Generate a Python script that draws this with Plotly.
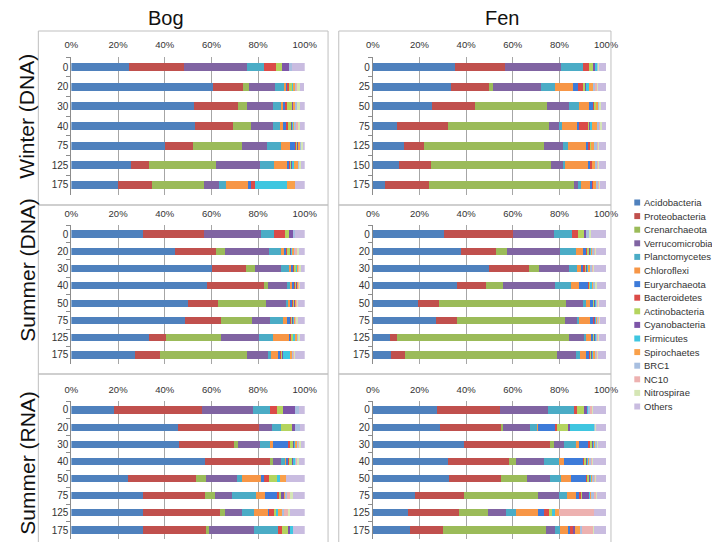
import plotly.graph_objects as go

taxa = ["Acidobacteria", "Proteobacteria", "Crenarchaeota", "Verrucomicrobia",
        "Planctomycetes", "Chloroflexi", "Euryarchaeota", "Bacteroidetes",
        "Actinobacteria", "Cyanobacteria", "Firmicutes", "Spirochaetes",
        "BRC1", "NC10", "Nitrospirae", "Others"]
colors = ["#4F81BD", "#C0504D", "#9BBB59", "#8064A2", "#4BACC6", "#F79646",
          "#3D7BD9", "#DB4B48", "#B4D45E", "#7D55A8", "#3FC6E0", "#F9A04A",
          "#A8BFE0", "#EDB1B0", "#D5E6B5", "#C9BCE0"]

depth_bog_winter = ["0", "20", "30", "40", "75", "125", "175"]
depth_fen_winter = ["0", "25", "50", "75", "125", "150", "175"]
depth_summer = ["0", "20", "30", "40", "50", "75", "125", "175"]

pct_ticks = [0, 20, 40, 60, 80, 100]
pct_labels = ["0%", "20%", "40%", "60%", "80%", "100%"]

col_titles = ["Bog", "Fen"]
row_titles = ["Winter (DNA)", "Summer (DNA)", "Summer (RNA)"]

# values in %, order of taxa above
bog_winter = [
    [24.6, 23.6, 0, 26.9, 7.4, 0, 0, 5.1, 2.8, 2.8, 0, 0, 1.4, 0, 0, 5.4],
    [60.8, 12.8, 2.4, 11.4, 3.8, 1.2, 0.3, 0.7, 1.4, 0.3, 0.3, 0.3, 1.0, 0.2, 1.0, 2.0],
    [52.5, 19.0, 3.9, 11.2, 3.7, 0.8, 0.8, 0.5, 2.5, 0.3, 0.3, 0.3, 1.2, 0.2, 0.8, 2.0],
    [52.8, 16.6, 7.7, 9.3, 3.2, 1.2, 1.6, 0.5, 1.4, 0.5, 0.6, 0.5, 0.8, 0.3, 1.0, 2.0],
    [40.0, 12.1, 21.2, 10.7, 5.9, 3.6, 2.5, 0.6, 0.3, 0.5, 0.3, 0.6, 0.3, 0.2, 0.3, 0.9],
    [25.7, 7.6, 28.5, 18.9, 6.2, 5.6, 1.1, 0.3, 0.7, 0.3, 0.3, 2.1, 0.5, 0.3, 0.3, 1.6],
    [19.9, 14.5, 22.3, 6.5, 3.1, 9.4, 1.1, 1.7, 0, 0, 13.9, 3.4, 0, 0, 0, 4.2],
]
fen_winter = [
    [35.2, 21.4, 0, 24.1, 9.3, 0, 0, 2.5, 2.0, 1.0, 0.5, 0, 0.5, 0, 0.5, 3.0],
    [33.4, 16.3, 1.8, 20.8, 5.6, 7.9, 2.2, 2.0, 1.0, 0.5, 1.0, 2.0, 1.0, 0.5, 0.5, 3.5],
    [25.3, 18.5, 30.9, 9.5, 4.2, 4.2, 2.0, 0.5, 0.5, 0, 0, 1.0, 0.5, 0, 0.5, 2.4],
    [10.4, 21.8, 43.3, 4.5, 1.1, 6.3, 1.0, 3.9, 0.5, 0.3, 1.0, 2.0, 1.0, 0.5, 0.5, 1.9],
    [13.2, 8.8, 51.5, 7.9, 2.1, 8.0, 1.0, 0.5, 0.5, 0, 0, 1.5, 1.0, 0.5, 0.3, 3.2],
    [11.4, 13.6, 51.5, 4.9, 1.0, 9.9, 1.0, 0.5, 0, 0, 0, 1.5, 1.0, 0.5, 0.3, 2.9],
    [5.3, 19.0, 61.9, 1.8, 1.2, 3.8, 1.0, 0.5, 0, 0, 0, 1.0, 1.0, 0.5, 0.3, 2.7],
]
bog_summer_dna = [
    [30.6, 26.1, 0, 24.7, 5.5, 0, 0, 4.5, 1.8, 2.1, 0, 0, 0.5, 0, 0, 4.2],
    [44.4, 17.7, 3.9, 18.8, 5.6, 0.8, 1.0, 0.3, 1.4, 0.5, 0.5, 0.3, 1.0, 0.3, 0.9, 2.6],
    [60.1, 14.9, 3.5, 11.5, 3.2, 1.0, 1.1, 0.5, 0.7, 0.3, 0.3, 0.3, 0.3, 0.2, 0.3, 1.8],
    [58.1, 24.4, 1.9, 7.8, 1.7, 0.5, 1.4, 0.2, 0.7, 0.3, 0.2, 0.2, 0.3, 0.1, 0.2, 2.0],
    [50.0, 12.9, 20.6, 8.3, 1.4, 0.4, 1.4, 0.3, 0.5, 0.2, 0.2, 0.3, 0.3, 0.2, 0.3, 2.7],
    [48.6, 15.6, 13.3, 7.8, 5.5, 1.7, 1.1, 1.0, 0.5, 0.3, 0.3, 0.3, 0.3, 0.3, 0.4, 3.0],
    [33.3, 7.4, 23.5, 16.1, 5.9, 7.0, 1.0, 0.3, 0.8, 0.2, 0.2, 1.4, 0.3, 0.2, 0.2, 2.2],
    [27.4, 10.4, 37.3, 9.3, 1.1, 3.5, 0.7, 0.7, 0.2, 0.2, 2.8, 1.4, 0.5, 0.3, 0.2, 4.0],
]
fen_summer_dna = [
    [30.6, 29.6, 0, 17.3, 8.0, 0, 0, 2.5, 2.4, 1.0, 0, 0, 1.5, 0, 0.5, 6.6],
    [37.6, 15.3, 4.8, 22.6, 6.6, 3.2, 1.3, 0.5, 1.0, 0.3, 0.5, 0.3, 1.0, 0.3, 0.5, 4.2],
    [49.8, 17.2, 4.3, 12.6, 3.7, 1.8, 1.0, 0.5, 0.8, 0.3, 0.5, 0.5, 1.0, 0.3, 0.5, 5.2],
    [36.2, 12.5, 6.9, 22.7, 6.8, 3.2, 4.0, 0.3, 0.5, 0.3, 0.5, 0.3, 1.0, 0.3, 0.5, 4.0],
    [19.2, 9.0, 54.6, 7.2, 1.4, 1.5, 1.5, 0.3, 0.3, 0.3, 0.3, 0.3, 0.5, 0.3, 0.3, 3.0],
    [27.1, 8.8, 46.4, 5.3, 0.7, 5.0, 1.0, 0.5, 0.3, 0.3, 0.3, 0.5, 0.5, 0.3, 0.3, 2.7],
    [7.4, 3.0, 73.5, 6.8, 0.7, 2.0, 1.0, 0.3, 0.3, 0.3, 0.3, 0.3, 0.5, 0.3, 0.3, 3.0],
    [7.6, 6.3, 65.1, 7.9, 2.1, 2.4, 1.5, 0.5, 0.3, 0.3, 0.3, 1.0, 0.5, 0.3, 0.3, 3.6],
]
bog_summer_rna = [
    [18.1, 37.7, 0, 22.1, 7.4, 0, 0, 3.0, 2.4, 5.3, 0, 0, 1.5, 0, 0, 2.5],
    [45.6, 35.0, 0, 5.4, 3.8, 0, 0, 0, 4.9, 1.0, 0, 0, 2.3, 0, 0, 2.0],
    [46.1, 23.8, 1.5, 9.5, 4.8, 0.7, 7.0, 0.2, 1.2, 1.0, 0.5, 0.2, 1.0, 0.3, 0.4, 1.8],
    [57.2, 28.1, 0.9, 3.5, 2.1, 0.3, 1.0, 0.2, 1.8, 0.3, 0.7, 0.2, 0.5, 0.2, 0.5, 2.5],
    [24.3, 29.2, 4.1, 13.4, 2.1, 8.3, 1.0, 2.5, 3.4, 0, 1.1, 2.4, 0, 0, 0, 8.2],
    [30.6, 26.8, 4.0, 7.6, 10.3, 3.8, 4.9, 1.0, 1.0, 1.4, 0.3, 0.3, 0.5, 1.4, 0.9, 5.2],
    [30.6, 32.9, 2.5, 7.3, 4.9, 6.5, 0.2, 2.5, 0.3, 0, 0.9, 2.1, 0.3, 2.4, 0.2, 6.4],
    [30.8, 27.3, 0.7, 19.3, 10.5, 0, 0, 1.7, 2.5, 1.0, 1.1, 0, 0, 0, 0, 5.1],
]
fen_summer_rna = [
    [27.5, 27.2, 0, 20.4, 11.1, 0, 0, 1.4, 2.8, 1.5, 0.5, 0, 1.0, 0.5, 0.5, 5.6],
    [28.9, 26.0, 0.7, 11.6, 3.3, 0.3, 7.1, 1.0, 4.8, 1.0, 10.1, 0, 0.5, 0, 0.3, 4.4],
    [39.2, 36.6, 1.7, 4.6, 5.2, 1.0, 4.2, 0.5, 1.0, 0.5, 0.5, 0.3, 0.8, 0.3, 0.3, 3.3],
    [32.3, 26.1, 2.8, 12.2, 6.6, 1.8, 8.2, 0.5, 0.8, 0.5, 0.5, 0.3, 1.0, 0.3, 0.5, 5.6],
    [32.7, 22.2, 11.4, 9.5, 4.9, 4.1, 6.6, 0.5, 0.8, 0.5, 0.5, 0.3, 1.0, 0.3, 0.5, 4.2],
    [18.1, 20.8, 31.8, 9.0, 3.7, 3.9, 1.2, 0.8, 0.3, 3.0, 0.5, 0.5, 1.0, 1.0, 0.5, 3.9],
    [15.3, 21.8, 12.3, 7.6, 4.2, 9.5, 2.6, 2.2, 1.4, 0, 1.4, 1.7, 0, 15.0, 0, 5.0],
    [16.0, 14.3, 44.1, 3.8, 2.2, 3.5, 0.8, 1.0, 0, 0.9, 0, 2.4, 0.5, 5.0, 0.5, 5.0],
]

W, H = 720, 542


def fx(p):
    return p / W


def fy(p):
    return 1 - p / H


# layout geometry (pixels): plot x-extent per column, plot y-extent per row
col_x = [(58, 298), (368, 608)]
row_y = [(49.2, 186.8), (217.4, 355.6), (393.4, 530.6)]
bar_w = [0.4, 0.42, 0.42]

panels = [
    (bog_winter, depth_bog_winter, 0, 0),
    (fen_winter, depth_fen_winter, 0, 1),
    (bog_summer_dna, depth_summer, 1, 0),
    (fen_summer_dna, depth_summer, 1, 1),
    (bog_summer_rna, depth_summer, 2, 0),
    (fen_summer_rna, depth_summer, 2, 1),
]

fig = go.Figure()
layout = {}
grid_c = "#A6A6A6"
axis_c = "#8C8C8C"
tick_font = dict(family="Liberation Sans, Arial", size=9.5, color="#333333")

for k, (data, depths, r, c) in enumerate(panels):
    n = k + 1
    xa = "x" if n == 1 else f"x{n}"
    ya = "y" if n == 1 else f"y{n}"
    for j, name in enumerate(taxa):
        fig.add_trace(go.Bar(
            y=depths, x=[row[j] for row in data], orientation="h",
            name=name, marker=dict(color=colors[j], line=dict(width=0)),
            width=bar_w[r], xaxis=xa, yaxis=ya, showlegend=False,
        ))
    x0, x1 = col_x[c]
    y0, y1 = row_y[r]
    layout[f"xaxis{'' if n == 1 else n}"] = dict(
        domain=[fx(x0), fx(x1)], range=[0, 100], side="top", anchor=ya,
        tickvals=pct_ticks, ticktext=pct_labels, showgrid=True,
        gridcolor=grid_c, gridwidth=1, zeroline=False, showline=False,
        ticks="outside", ticklen=4, tickcolor="rgba(0,0,0,0)",
        tickfont=tick_font, fixedrange=True,
    )
    layout[f"yaxis{'' if n == 1 else n}"] = dict(
        domain=[fy(y1), fy(y0)], type="category", categoryarray=depths,
        range=[len(depths) - 0.5, -0.5], anchor=xa, showline=True,
        linecolor=axis_c, linewidth=1, ticks="outside", tickson="boundaries",
        ticklen=4, tickcolor=axis_c, showgrid=False, zeroline=False,
        tickfont=dict(family="Liberation Sans, Arial", size=10, color="#333333"),
        fixedrange=True,
    )

shapes = []
# panel frames
frame_x = [(24, 322), (333, 613)]
frame_y = [(23, 197), (197, 366), (366, 540)]
for fx0, fx1 in frame_x:
    for fy0, fy1 in frame_y:
        shapes.append(dict(type="rect", xref="paper", yref="paper",
                           x0=fx(fx0), x1=fx(fx1), y0=fy(fy1), y1=fy(fy0),
                           line=dict(color="#BFBFBF", width=1)))

annotations = []
title_x = [155, 501]
for t, xc in zip(col_titles, title_x):
    annotations.append(dict(text=t, x=fx(xc), y=fy(10), xref="paper", yref="paper",
                            showarrow=False, xanchor="center", yanchor="middle",
                            font=dict(family="Liberation Sans, Arial", size=20, color="#111111")))
row_cy = [108, 262, 455]
for t, yc in zip(row_titles, row_cy):
    annotations.append(dict(text=t, x=fx(12), y=fy(yc), xref="paper", yref="paper",
                            showarrow=False, xanchor="center", yanchor="middle",
                            textangle=-90,
                            font=dict(family="Liberation Sans, Arial", size=21, color="#111111")))

# legend (drawn manually to match compact Excel spacing)
leg_x, leg_y0, leg_dy = 637, 194.5, 13.6
for i, (name, col) in enumerate(zip(taxa, colors)):
    yc = leg_y0 + i * leg_dy
    shapes.append(dict(type="rect", xref="paper", yref="paper",
                       x0=fx(leg_x), x1=fx(leg_x + 6), y0=fy(yc + 3), y1=fy(yc - 3),
                       fillcolor=col, line=dict(width=0)))
    annotations.append(dict(text=name, x=fx(leg_x + 8), y=fy(yc), xref="paper", yref="paper",
                            showarrow=False, xanchor="left", yanchor="middle",
                            font=dict(family="Liberation Sans, Arial", size=9.5, color="#333333")))

fig.update_layout(
    **layout,
    barmode="stack",
    width=W, height=H,
    margin=dict(l=0, r=0, t=0, b=0),
    paper_bgcolor="white", plot_bgcolor="white",
    shapes=shapes, annotations=annotations,
    showlegend=False,
)

fig.write_html("out.html")
